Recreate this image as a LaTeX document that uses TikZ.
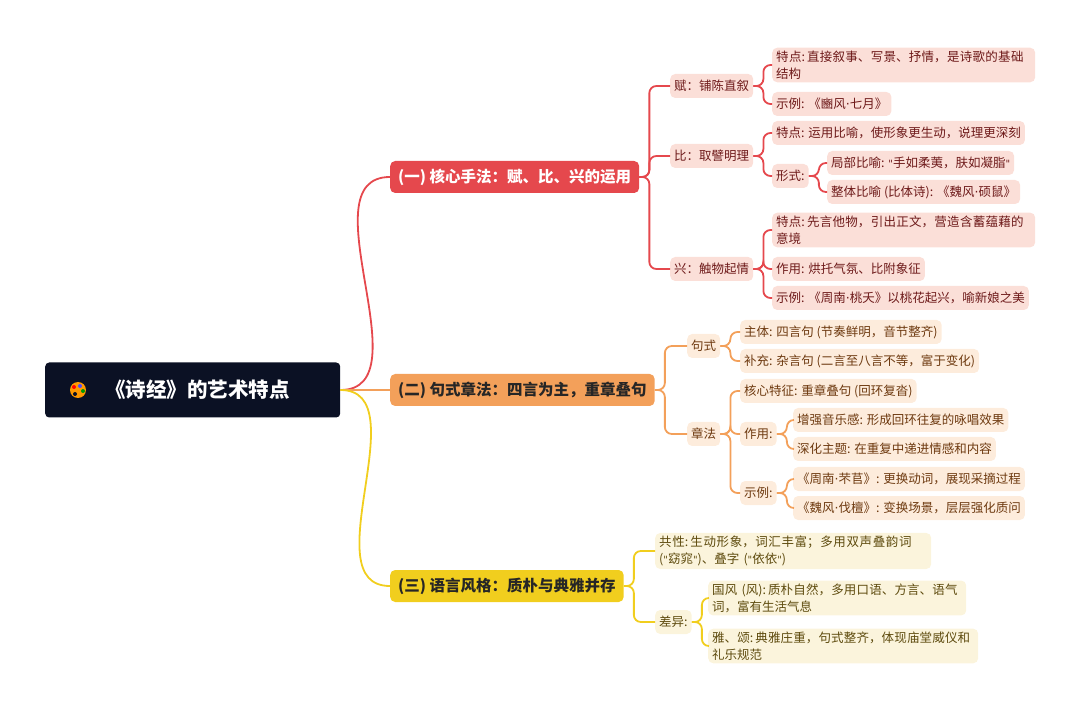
\documentclass[tikz,border=0pt]{standalone}
\usepackage{fontspec}
\setmainfont{Noto Sans CJK SC}
\newfontfamily\latf{DejaVu Sans}
\XeTeXlinebreaklocale "zh"
\XeTeXlinebreakskip=0pt plus 1pt
\newcommand\dq{{\latf\fontsize{10}{10}\selectfont"}}
\newcommand\md{{\latf ·}}
\usetikzlibrary{calc,positioning}
\definecolor{rootbg}{HTML}{0B1124}
\definecolor{redM}{HTML}{E5484D}
\definecolor{redL}{HTML}{FBDFD8}
\definecolor{redT}{HTML}{6E1A1A}
\definecolor{orM}{HTML}{F3A05A}
\definecolor{orL}{HTML}{FDECDC}
\definecolor{orT}{HTML}{6E3A10}
\definecolor{yeM}{HTML}{F1CE1E}
\definecolor{yeL}{HTML}{FBF4DC}
\definecolor{yeT}{HTML}{5E4B0E}
\begin{document}
\begin{tikzpicture}[x=1pt,y=-1pt,
  box/.style={anchor=west,rounded corners=5pt,inner xsep=4pt,inner ysep=3pt,
              minimum height=24pt,font=\fontsize{12.5}{17}\selectfont,align=left},
  leafr/.style={box,fill=redL,text=redT},
  leafo/.style={box,fill=orL,text=orT},
  leafy/.style={box,fill=yeL,text=yeT},
  main/.style={anchor=west,rounded corners=5pt,minimum height=32pt,inner xsep=8pt,
               font=\fontsize{15.5}{17}\selectfont\bfseries},
  lk/.style={line width=1.8pt,rounded corners=7pt}]
% frame
\useasboundingbox (0,0) rectangle (1080,711);
% root
\node[anchor=west,fill=rootbg,text=white,rounded corners=4pt,minimum width=295pt,
      minimum height=55pt,inner xsep=0pt,align=left,text width=295pt,
      font=\fontsize{20.5}{24}\selectfont\bfseries] (root) at (45,390)
      {\hspace{60pt}《诗经》的艺术特点};
% palette
\fill[orange!80!yellow] ($(root.west)+(33,0)$) circle (8pt);
\fill[red] ($(root.west)+(29,-3)$) circle (2pt);
\fill[blue!70] ($(root.west)+(35,-4)$) circle (2pt);
\fill[green!60!black] ($(root.west)+(38,1)$) circle (2pt);
\fill[rootbg] ($(root.west)+(30,4)$) circle (2pt);

% branches
\node[main,fill=redM,text=white] (b1) at (390,177) {(一) 核心手法：赋、比、兴的运用};
\node[main,fill=orM,text=black!85] (b2) at (390,390) {(二) 句式章法：四言为主，重章叠句};
\node[main,fill=yeM,text=black!85] (b3) at (390,586) {(三) 语言风格：质朴与典雅并存};
\draw[line width=1.8pt,redM] (root.east) to[out=0,in=180] (b1.west);
\draw[line width=1.8pt,orM] (root.east) to[out=0,in=180] (b2.west);
\draw[line width=1.8pt,yeM] (root.east) to[out=0,in=180] (b3.west);

% red part
\node[leafr] (fu) at (670,86) {赋：铺陈直叙};
\node[leafr] (bi) at (670,156) {比：取譬明理};
\node[leafr] (xing) at (670,269) {兴：触物起情};
\node[leafr,text width=255pt] (fu1) at (772,65) {特点:\,直接叙事、写景、抒情，是诗歌的基础结构};
\node[leafr] (fu2) at (772,104) {示例: 《豳风\md 七月》};
\node[leafr] (bi1) at (772,133) {特点: 运用比喻，使形象更生动，说理更深刻};
\node[leafr] (bi2) at (772,176) {形式:};
\node[leafr] (bi21) at (827,163) {局部比喻: \dq 手如柔荑，肤如凝脂\dq};
\node[leafr] (bi22) at (827,192) {整体比喻 (比体诗): 《魏风\md 硕鼠》};
\node[leafr,text width=255pt] (xi1) at (772,230) {特点:\,先言他物，引出正文，营造含蓄蕴藉的意境};
\node[leafr] (xi2) at (772,269) {作用: 烘托气氛、比附象征};
\node[leafr] (xi3) at (772,298) {示例: 《周南\md 桃夭》以桃花起兴，喻新娘之美};
\foreach \p/\c in {b1/fu,b1/bi,b1/xing,fu/fu1,fu/fu2,bi/bi1,bi/bi2,bi2/bi21,bi2/bi22,
                   xing/xi1,xing/xi2,xing/xi3}
  \draw[lk,redM] (\p.east) -- ++(10,0) |- (\c.west);

% orange part
\node[leafo] (jushi) at (687,346) {句式};
\node[leafo] (zhang) at (687,434) {章法};
\node[leafo] (js1) at (740,332) {主体: 四言句 (节奏鲜明，音节整齐)};
\node[leafo] (js2) at (740,361) {补充: 杂言句 (二言至八言不等，富于变化)};
\node[leafo] (zf1) at (740,391) {核心特征: 重章叠句 (回环复沓)};
\node[leafo] (zf2) at (740,434) {作用:};
\node[leafo] (zf21) at (793,420) {增强音乐感: 形成回环往复的咏唱效果};
\node[leafo] (zf22) at (793,449) {深化主题: 在重复中递进情感和内容};
\node[leafo] (zf3) at (740,493) {示例:};
\node[leafo] (zf31) at (793,479) {《周南\md 芣苢》: 更换动词，展现采摘过程};
\node[leafo] (zf32) at (793,508) {《魏风\md 伐檀》: 变换场景，层层强化质问};
\foreach \p/\c in {b2/jushi,b2/zhang,jushi/js1,jushi/js2,zhang/zf1,zhang/zf2,zhang/zf3,
                   zf2/zf21,zf2/zf22,zf3/zf31,zf3/zf32}
  \draw[lk,orM] (\p.east) -- ++(10,0) |- (\c.west);

% yellow part
\node[leafy,text width=268pt] (gx) at (655,551) {共性:\,生动形象，词汇丰富；多用双声叠韵词 (\dq 窈窕\dq)、叠字 (\dq 依依\dq)};
\node[leafy] (cy) at (655,622) {差异:};
\node[leafy,text width=250pt] (cy1) at (708,598) {国风 (风):\,质朴自然，多用口语、方言、语气词，富有生活气息};
\node[leafy,text width=262pt] (cy2) at (708,646) {雅、颂:\,典雅庄重，句式整齐，体现庙堂威仪和礼乐规范};
\foreach \p/\c in {b3/gx,b3/cy,cy/cy1,cy/cy2}
  \draw[lk,yeM] (\p.east) -- ++(10,0) |- (\c.west);
\end{tikzpicture}
\end{document}
